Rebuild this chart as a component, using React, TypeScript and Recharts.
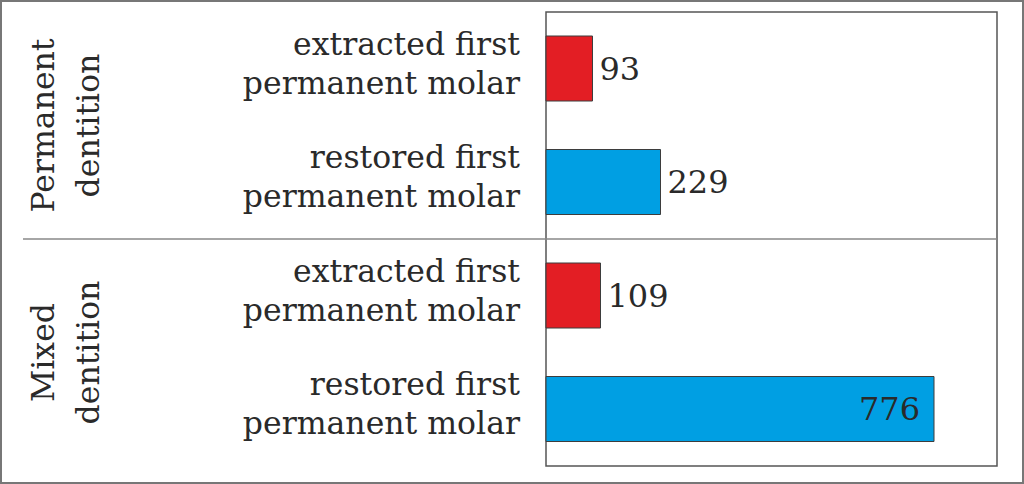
import React from 'react';
import { BarChart, Bar, XAxis, YAxis, Cell, LabelList, ReferenceArea } from 'recharts';

const keys = ['pe', 'pr', 'me', 'mr'];
const groups = ['Permanent dentition', 'Permanent dentition', 'Mixed dentition', 'Mixed dentition'];
const line1 = ['extracted first', 'restored first', 'extracted first', 'restored first'];
const line2 = ['permanent molar', 'permanent molar', 'permanent molar', 'permanent molar'];
const counts = [93, 229, 109, 776];
const kinds = ['extracted', 'restored', 'extracted', 'restored'];
const groupTitles = [['Permanent', 'dentition'], ['Mixed', 'dentition']];

const colors: Record<string, string> = { extracted: '#E31E24', restored: '#009FE3' };
const FONT = '"DejaVu Serif", serif';
const TEXT = '#2a2a2a';

const data = keys.map((k, i) => ({ key: k, group: groups[i], l1: line1[i], l2: line2[i], value: counts[i], kind: kinds[i] }));

const W = 1024;
const H = 484;
const M = { top: 12, right: 27, bottom: 18, left: 0 };
const AXIS_W = 546;

const Tick = (props: any) => {
  const { x, y, index } = props;
  const d = data[index];
  if (!d) return null;
  return (
    <text x={x} y={y} textAnchor="end" fontFamily={FONT} fontSize={31.5} fill={TEXT}>
      <tspan x={x} y={y - 14}>{d.l1}</tspan>
      <tspan x={x} y={y + 25}>{d.l2}</tspan>
    </text>
  );
};

const ValueLabel = (props: any) => {
  const { x, y, width, height, value } = props;
  const inside = value > 600;
  const tx = inside ? x + width - 14 : x + width + 7;
  return (
    <text x={tx} y={y + height / 2 + 11} textAnchor={inside ? 'end' : 'start'} fontFamily={FONT} fontSize={32} fill={TEXT}>
      {value}
    </text>
  );
};

export default function App() {
  const plotTop = M.top;
  const plotBottom = H - M.bottom;
  const band = (plotBottom - plotTop) / data.length;
  const divY = plotTop + band * 2;
  const plotRight = W - M.right;
  const groupCenters = [(plotTop + divY) / 2, (divY + plotBottom) / 2];
  return (
    <div style={{ position: 'absolute', left: 0, top: 0, width: W, height: H }}>
      <BarChart width={W} height={H} data={data} layout="vertical" margin={M}>
        <XAxis type="number" domain={[0, 902]} hide />
        <YAxis
          type="category"
          dataKey="key"
          width={AXIS_W}
          tickLine={false}
          tickSize={0}
          tickMargin={26}
          axisLine={false}
          tick={<Tick />}
          interval={0}
        />
        <ReferenceArea x1={0} x2={902} fill="none" stroke="#555" strokeWidth={1.5} ifOverflow="visible" />
        <Bar dataKey="value" barSize={65} stroke="#3d3d3d" strokeWidth={1} isAnimationActive={false}>
          {data.map((d) => (
            <Cell key={d.key} fill={colors[d.kind]} />
          ))}
          <LabelList dataKey="value" content={<ValueLabel />} />
        </Bar>
      </BarChart>
      <svg width={W} height={H} style={{ position: 'absolute', left: 0, top: 0, pointerEvents: 'none' }}>
        <rect x={1} y={1} width={W - 2} height={H - 2} fill="none" stroke="#777" strokeWidth={2} />
        <line x1={23} x2={plotRight} y1={divY} y2={divY} stroke="#888" strokeWidth={1.5} />
        {groupTitles.map((t, gi) => (
          <text
            key={gi}
            transform={`translate(0, ${groupCenters[gi]}) rotate(-90)`}
            textAnchor="middle"
            fontFamily={FONT}
            fontSize={31.5}
            fill={TEXT}
          >
            <tspan x={0} y={54}>{t[0]}</tspan>
            <tspan x={0} y={99}>{t[1]}</tspan>
          </text>
        ))}
      </svg>
    </div>
  );
}
